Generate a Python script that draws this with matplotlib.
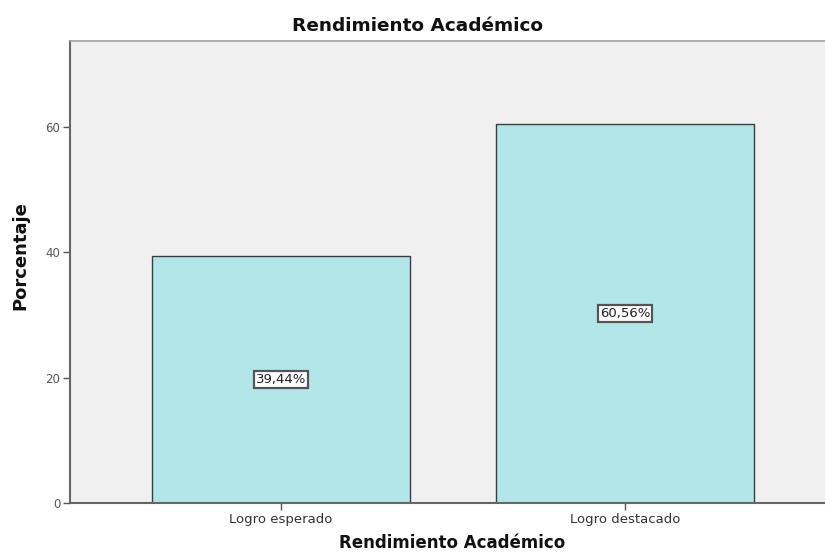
import matplotlib
matplotlib.use("Agg")
import matplotlib.pyplot as plt

categories = ["Logro esperado", "Logro destacado"]
values = [39.44, 60.56]
labels = ["39,44%", "60,56%"]
yticks = [0, 20, 40, 60]

plt.rcParams['font.family'] = ['DejaVu Sans']

W, H = 825, 553
fig = plt.figure(figsize=(W / 100, H / 100), dpi=100)
fig.patch.set_facecolor("white")
ax = fig.add_axes([70 / W, 1 - 503 / H, (825 - 70) / W, (503 - 40.7) / H])
ax.set_facecolor("#f0f0f0")

x = list(range(len(categories)))
ax.bar(x, values, width=0.75, color="#b3e6e8", edgecolor="#3c3c3c", linewidth=1.0, zorder=2)
for xi, v, lab in zip(x, values, labels):
    ax.text(xi, v / 2, lab, ha="center", va="center", fontsize=9.5, color="#222222", zorder=3,
            bbox=dict(boxstyle="square,pad=0.15", facecolor="white", edgecolor="#555555", linewidth=1.6))

ax.set_xlim(-0.613, 1.581)
ax.set_ylim(0, 73.8)
ax.set_xticks(x)
ax.set_xticklabels(categories, fontsize=9.5, color="#333333")
ax.set_yticks(yticks)
ax.set_yticklabels([str(t) for t in yticks], fontsize=8.5, color="#555555")
ax.tick_params(axis="both", direction="out", length=5, width=1.0, color="#555555", pad=2)

for side in ["left", "bottom"]:
    ax.spines[side].set_color("#666666")
    ax.spines[side].set_linewidth(1.5)
ax.spines["top"].set_color("#a0a0a0")
ax.spines["top"].set_linewidth(1.2)
ax.spines["right"].set_visible(False)

fig.text(417 / W, 1 - 26 / H, "Rendimiento Académico", ha="center", va="center",
         fontsize=13.3, fontweight="bold", color="#111111")
fig.text(452 / W, 1 - 543 / H, "Rendimiento Académico", ha="center", va="center",
         fontsize=12, fontweight="bold", color="#111111")
fig.text(20 / W, 1 - 256 / H, "Porcentaje", ha="center", va="center", rotation=90,
         fontsize=13, fontweight="bold", color="#111111")

fig.savefig("out.png", dpi=100)
